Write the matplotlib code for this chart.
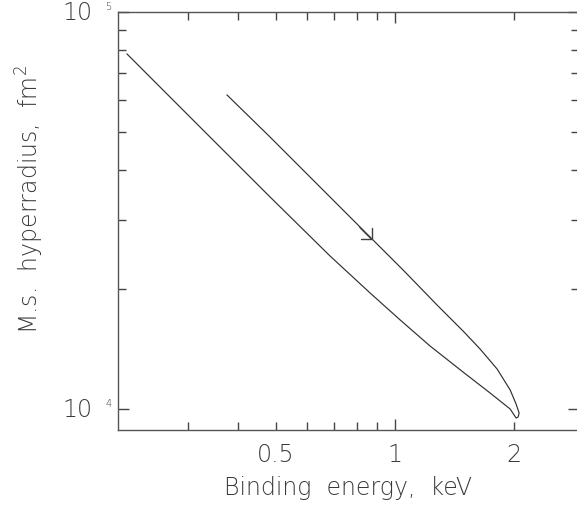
import numpy as np
import matplotlib
matplotlib.use("Agg")
import matplotlib.pyplot as plt
from matplotlib.ticker import FixedLocator, NullFormatter, FuncFormatter

# upper branch, from its start down to the tip near 2 keV
upper_e = [0.3756, 0.4827, 0.6164, 0.8745, 1.048, 1.277, 1.486, 1.641,
           1.812, 1.955, 2.024, 2.060, 2.048, 2.024]
upper_r = [61800, 48420, 37960, 26800, 22390, 18280, 15720, 14160,
           12610, 11170, 10290, 9770, 9546, 9490]

# lower branch, from the tip back up to small binding energies
lower_e = [2.024, 1.955, 1.740, 1.486, 1.226, 1.030, 0.8644, 0.6845,
           0.4827, 0.3209, 0.2097]
lower_r = [9490, 10000, 10970, 12390, 14410, 16760, 19600, 24290,
           34200, 51320, 78400]

# arrow on upper branch
arrow_e = 0.876
arrow_r = 26650

xtick_vals = [0.5, 1, 2]
xtick_labels = ["0.5", "1", "2"]
ytick_vals = [1e4, 1e5]
ytick_exps = ["4", "5"]

fcol = "#3a3a3a"
plt.rcParams['font.family'] = ['DejaVu Sans']
plt.rcParams['font.weight'] = 'light'
plt.rcParams['axes.labelweight'] = 'light'

fig = plt.figure(figsize=(5.77, 5.06), dpi=100)
ax = fig.add_axes([118/577, 75/506, 461/577, 418/506])

e = upper_e + lower_e[1:]
r = upper_r + lower_r[1:]
ax.plot(e, r, color="#303030", lw=0.85)

ax.annotate("", xy=(arrow_e, arrow_r), xytext=(-9, 9), textcoords="offset points",
            arrowprops=dict(arrowstyle="->,head_length=0.55,head_width=0.55",
                            color="#404040", lw=1.0, shrinkA=0, shrinkB=0))

ax.set_xscale("log")
ax.set_yscale("log")
ax.set_xlim(0.199, 2.92)
ax.set_ylim(8853, 1e5)

# x ticks: decade major, labels on 0.5, 1, 2
ax.xaxis.set_major_locator(FixedLocator([1]))
ax.xaxis.set_minor_locator(FixedLocator([0.3, 0.4, 0.5, 0.6, 0.7, 0.8, 0.9, 2]))
ax.xaxis.set_major_formatter(FuncFormatter(lambda v, p: "1"))
ax.xaxis.set_minor_formatter(FuncFormatter(
    lambda v, p: xtick_labels[xtick_vals.index(v)] if v in xtick_vals else ""))

ax.yaxis.set_major_locator(FixedLocator(ytick_vals))
ax.yaxis.set_minor_locator(FixedLocator([k * 1e4 for k in range(2, 10)]))
ax.yaxis.set_major_formatter(NullFormatter())
ax.yaxis.set_minor_formatter(NullFormatter())

ax.tick_params(which="both", direction="in", top=True, right=True,
               color="#444444", width=1.0, labelsize=17, labelcolor=fcol, pad=9)
ax.tick_params(which="major", length=8)
ax.tick_params(which="minor", length=5.5)

for s in ax.spines.values():
    s.set_color("#555555")
    s.set_linewidth(1.0)

for v, ex in zip(ytick_vals, ytick_exps):
    ax.annotate("10", xy=(0, v), xycoords=("axes fraction", "data"),
                xytext=(-18.5, 0), textcoords="offset points",
                ha="right", va="center", fontsize=17, color=fcol)
    ax.annotate(ex, xy=(0, v), xycoords=("axes fraction", "data"),
                xytext=(-4.5, 4.5), textcoords="offset points",
                ha="right", va="center", fontsize=7, color=fcol)

ax.set_xlabel("Binding  energy,  keV", fontsize=17, color=fcol, labelpad=6)
fig.text(30/577, 1 - 200/506, "M.s.  hyperradius,  fm$^2$", rotation=90,
         ha="center", va="center", fontsize=17, color=fcol)

fig.savefig("out.png", dpi=100)
